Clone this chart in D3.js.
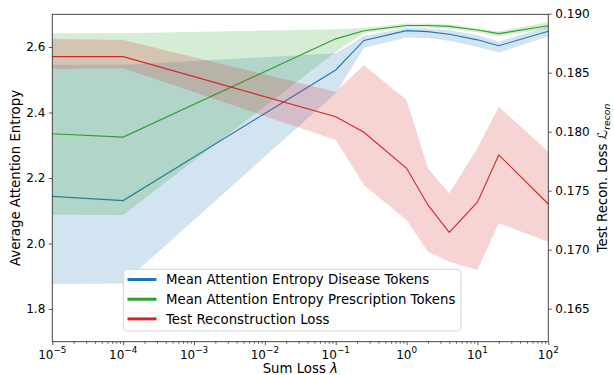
<!DOCTYPE html>
<html>
<head>
<meta charset="utf-8">
<script src="https://cdn.jsdelivr.net/npm/d3@7"></script>
<style>
  body { margin: 0; background: #fff; }
  text { font-family: "DejaVu Sans", sans-serif; }
</style>
</head>
<body>
<div id="chart"></div>
<script>
// data
let lambdas = [1e-5, 1e-4, 1e-1, 0.25, 1, 2, 4, 10, 20, 100];

let diseaseMean = [2.144, 2.131, 2.530, 2.620, 2.650, 2.647, 2.639, 2.622, 2.604, 2.648];
let diseaseLow  = [1.876, 1.878, 2.459, 2.598, 2.629, 2.627, 2.619, 2.600, 2.583, 2.632];
let diseaseHigh = [2.546, 2.546, 2.581, 2.634, 2.659, 2.657, 2.651, 2.636, 2.617, 2.662];

let prescMean = [2.335, 2.325, 2.625, 2.650, 2.666, 2.666, 2.663, 2.652, 2.641, 2.665];
let prescLow  = [2.088, 2.087, 2.585, 2.642, 2.660, 2.660, 2.657, 2.645, 2.633, 2.657];
let prescHigh = [2.642, 2.642, 2.654, 2.658, 2.672, 2.672, 2.669, 2.657, 2.648, 2.676];

let reconMean = [0.18636, 0.18636, 0.18127, 0.17995, 0.1769, 0.17379, 0.17147, 0.17402, 0.17803, 0.17387];
let reconLow  = [0.18531, 0.18537, 0.1793, 0.17548, 0.17252, 0.16983, 0.16898, 0.16828, 0.17224, 0.17068];
let reconHigh = [0.18786, 0.18777, 0.18339, 0.18565, 0.18269, 0.1769, 0.17478, 0.1786, 0.18212, 0.1783];

let xTicks = [-5, -4, -3, -2, -1, 0, 1, 2];
let leftTicks = [1.8, 2.0, 2.2, 2.4, 2.6];
let rightTicks = [0.165, 0.170, 0.175, 0.180, 0.185, 0.190];
let legendNames = ["Mean Attention Entropy Disease Tokens",
                   "Mean Attention Entropy Prescription Tokens",
                   "Test Reconstruction Loss"];

let width = 614, height = 375;
let mLeft = 52.3, mRight = 548.3, mTop = 14.3, mBottom = 341.7;
let blue = "#1f77b4", green = "#2ca02c", red = "#d62728";
let tickFont = 12, labelFont = 13.3;

let svg = d3.select("#chart").append("svg")
    .attr("width", width)
    .attr("height", height);

let x = d3.scaleLog().domain([1e-5, 1e2]).range([mLeft, mRight]);
let yL = d3.scaleLinear().domain([1.7, 2.7]).range([mBottom, mTop]);
let yR = d3.scaleLinear().domain([0.16220, 0.18995]).range([mBottom, mTop]);

// bands + lines
function series(mean, lo, hi, y, color) {
    let rows = lambdas.map((l, i) => ({l: l, m: mean[i], lo: lo[i], hi: hi[i]}));
    svg.append("path")
        .datum(rows)
        .attr("fill", color)
        .attr("fill-opacity", 0.2)
        .attr("d", d3.area().x(d => x(d.l)).y0(d => y(d.lo)).y1(d => y(d.hi)));
    svg.append("path")
        .datum(rows)
        .attr("fill", "none")
        .attr("stroke", color)
        .attr("stroke-width", 1.1)
        .attr("d", d3.line().x(d => x(d.l)).y(d => y(d.m)));
}

series(diseaseMean, diseaseLow, diseaseHigh, yL, blue);
series(prescMean, prescLow, prescHigh, yL, green);
series(reconMean, reconLow, reconHigh, yR, red);

// frame
svg.append("rect")
    .attr("x", mLeft).attr("y", mTop)
    .attr("width", mRight - mLeft).attr("height", mBottom - mTop)
    .attr("fill", "none")
    .attr("stroke", "#333")
    .attr("stroke-width", 0.9);

// x axis: major + minor ticks
let minors = [];
for (let e = -5; e < 2; e++) {
    for (let k = 2; k <= 9; k++) minors.push(k * Math.pow(10, e));
}
let xAxisG = svg.append("g").attr("transform", "translate(0," + mBottom + ")");
xAxisG.call(d3.axisBottom(x).tickValues(minors).tickSize(2).tickFormat("").tickSizeOuter(0));
xAxisG.select(".domain").remove();
let xMajor = svg.append("g").attr("transform", "translate(0," + mBottom + ")");
xMajor.call(d3.axisBottom(x).tickValues(xTicks.map(e => Math.pow(10, e))).tickSize(3.5).tickFormat("").tickSizeOuter(0));
xMajor.select(".domain").remove();
svg.selectAll(".tick line").attr("stroke", "#333").attr("stroke-width", 0.8);

xTicks.forEach(e => {
    let t = svg.append("text")
        .attr("x", x(Math.pow(10, e)))
        .attr("y", 358.5)
        .attr("text-anchor", "middle")
        .attr("font-size", tickFont);
    t.append("tspan").text("10");
    t.append("tspan")
        .attr("dy", -5.5)
        .attr("font-size", 8.8)
        .text(e < 0 ? "\u2212" + (-e) : String(e));
});

// left axis
let yLG = svg.append("g").attr("transform", "translate(" + mLeft + ",0)");
yLG.call(d3.axisLeft(yL).tickValues(leftTicks).tickSize(3.5).tickPadding(3.5).tickFormat(d3.format(".1f")));
yLG.select(".domain").remove();
yLG.selectAll("text").attr("font-size", tickFont).attr("font-family", "DejaVu Sans").attr("fill", "#000");
yLG.selectAll("line").attr("stroke", "#333").attr("stroke-width", 0.8);

// right axis
let yRG = svg.append("g").attr("transform", "translate(" + mRight + ",0)");
yRG.call(d3.axisRight(yR).tickValues(rightTicks).tickSize(3.5).tickPadding(3.5).tickFormat(d3.format(".3f")));
yRG.select(".domain").remove();
yRG.selectAll("text").attr("font-size", tickFont).attr("font-family", "DejaVu Sans").attr("fill", "#000");
yRG.selectAll("line").attr("stroke", "#333").attr("stroke-width", 0.8);

// axis labels
let xl = svg.append("text")
    .attr("x", (mLeft + mRight) / 2)
    .attr("y", 373)
    .attr("text-anchor", "middle")
    .attr("font-size", labelFont);
xl.append("tspan").text("Sum Loss ");
xl.append("tspan").attr("font-style", "italic").text("\u03bb");

svg.append("text")
    .attr("transform", "translate(20," + ((mTop + mBottom) / 2) + ") rotate(-90)")
    .attr("text-anchor", "middle")
    .attr("font-size", labelFont)
    .text("Average Attention Entropy");

let rl = svg.append("text")
    .attr("transform", "translate(607," + ((mTop + mBottom) / 2) + ") rotate(-90)")
    .attr("text-anchor", "middle")
    .attr("font-size", labelFont);
rl.append("tspan").text("Test Recon. Loss ");
rl.append("tspan").attr("font-style", "italic").text("\u2112");
rl.append("tspan").attr("font-style", "italic").attr("font-size", 9.3).attr("dy", 3).text("recon");

// legend
let leg = svg.append("g");
leg.append("rect")
    .attr("x", 123.3).attr("y", 269.3)
    .attr("width", 337.7).attr("height", 61.7)
    .attr("rx", 3)
    .attr("fill", "#fff").attr("fill-opacity", 0.8)
    .attr("stroke", "#d0d0d0").attr("stroke-width", 0.9);
[blue, green, red].forEach((c, i) => {
    let yy = 279.5 + i * 19.7;
    leg.append("line")
        .attr("x1", 127.5).attr("x2", 156.5)
        .attr("y1", yy).attr("y2", yy)
        .attr("stroke", c).attr("stroke-width", 3);
    leg.append("text")
        .attr("x", 166).attr("y", yy + 4.8)
        .attr("font-size", labelFont)
        .text(legendNames[i]);
});
</script>
</body>
</html>
